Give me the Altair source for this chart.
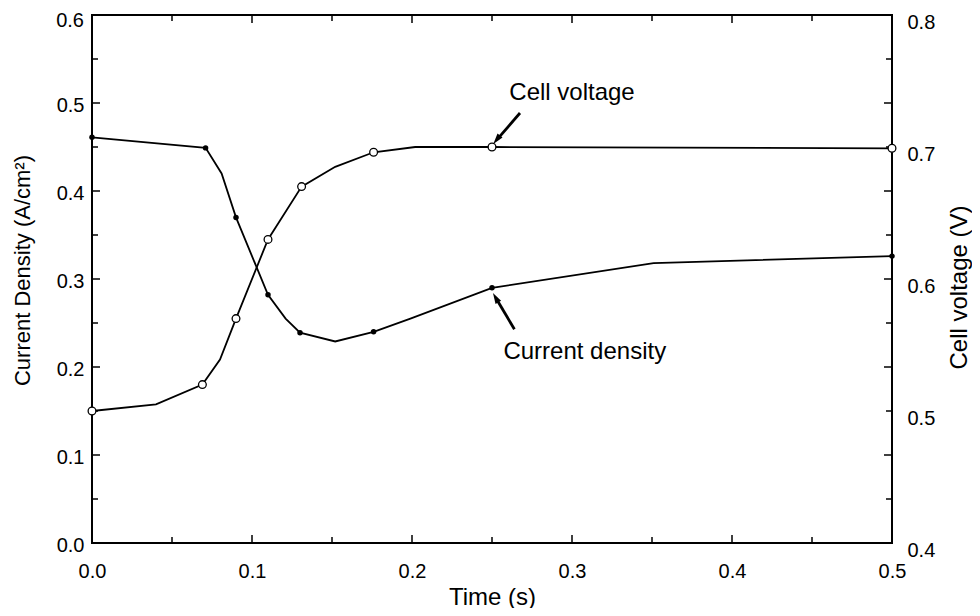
import altair as alt
import pandas as pd

# ---- data ----
cd_time = [0.0, 0.071, 0.081, 0.090, 0.110, 0.121, 0.130, 0.152, 0.176, 0.199, 0.250, 0.351, 0.500]
cd_value = [0.461, 0.449, 0.420, 0.370, 0.282, 0.255, 0.239, 0.229, 0.240, 0.255, 0.290, 0.318, 0.326]
cd_marked = [True, True, False, True, True, False, True, False, True, False, True, False, True]

v_time = [0.0, 0.040, 0.069, 0.080, 0.090, 0.110, 0.131, 0.152, 0.176, 0.202, 0.250, 0.500]
v_value = [0.500, 0.505, 0.520, 0.539, 0.570, 0.630, 0.670, 0.685, 0.696, 0.700, 0.700, 0.699]
v_marked = [True, False, True, False, True, True, True, False, True, False, True, True]

x_major = [0.0, 0.1, 0.2, 0.3, 0.4, 0.5]
x_minor = [0.05, 0.15, 0.25, 0.35, 0.45]
cd_major = [0.0, 0.1, 0.2, 0.3, 0.4, 0.5, 0.6]
cd_minor = [0.05, 0.15, 0.25, 0.35, 0.45, 0.55]
v_ticks = [0.4, 0.5, 0.6, 0.7, 0.8]

label_text = ["Cell voltage", "Current density"]
label_t = [0.300, 0.308]
label_cd = [0.511, 0.217]
arrow_tail_t = [0.2675, 0.264]
arrow_tail_cd = [0.4886, 0.243]
arrow_head_t = [0.2508, 0.2506]
arrow_head_cd = [0.4535, 0.284]
arrow_angle = [219, 330]

# ---- layout ----
W, H = 800, 528
FONT = "Liberation Sans"
MAJ, MIN = 8, 6

cd_df = pd.DataFrame({"t": cd_time, "cd": cd_value, "m": cd_marked})
v_df = pd.DataFrame({"t": v_time, "v": v_value, "m": v_marked})

xscale = alt.Scale(domain=[0, 0.5], nice=False, zero=False)
cdscale = alt.Scale(domain=[0, 0.6], nice=False, zero=False)
vscale = alt.Scale(domain=[0.4, 0.8], nice=False, zero=False)

x_axis = alt.Axis(
    values=x_major, format=".1f", title="Time (s)", ticks=False,
    domain=False, grid=False, labels=True, labelFontSize=20, labelPadding=34,
    labelBaseline="alphabetic", labelFlush=False, labelOverlap=False,
    titleFontSize=24, titleFontWeight="normal", titleX=W / 2, titleY=61,
    titleBaseline="alphabetic", titleAlign="center",
)
# the top label (0.6) sits lower in the reference; it is drawn as a text layer below
left_axis = alt.Axis(
    values=cd_major[:-1], format=".1f", title="Current Density (A/cm²)", ticks=False,
    domain=False, grid=False, labels=True, labelFontSize=20, labelPadding=8,
    labelFlush=False, labelOverlap=False, labelOffset=2,
    titleFontSize=22, titleFontWeight="normal", titleAngle=270, titleX=-70,
    titleY=255, titleAlign="center", titleBaseline="middle",
)
right_axis = alt.Axis(
    orient="right", values=v_ticks, format=".1f", title="Cell voltage (V)",
    ticks=False, domain=False, grid=False, labels=True, labelFontSize=20,
    labelPadding=15, labelOffset=7, labelFlush=False, labelOverlap=False,
    titleFontSize=24, titleFontWeight="normal", titleAngle=270, titleX=67,
    titleY=272, titleAlign="center", titleBaseline="middle",
)

X = alt.X("t:Q", scale=xscale, axis=x_axis)
Ycd = alt.Y("cd:Q", scale=cdscale, axis=left_axis)
Yv = alt.Y("v:Q", scale=vscale, axis=right_axis)

cd_line = alt.Chart(cd_df).mark_line(color="black", strokeWidth=1.8).encode(x=X, y=Ycd)
cd_pts = alt.Chart(cd_df).transform_filter("datum.m").mark_circle(
    color="black", size=30, opacity=1
).encode(x=X, y=Ycd)


def y_ticks(vals, x0, x1):
    return alt.Chart(pd.DataFrame({"cd": vals})).mark_rule(
        color="black", strokeWidth=1.5
    ).encode(y=Ycd, x=alt.value(x0), x2=alt.value(x1))


def x_ticks(vals, y0, y1):
    return alt.Chart(pd.DataFrame({"t": vals})).mark_rule(
        color="black", strokeWidth=1.5
    ).encode(x=X, y=alt.value(y0), y2=alt.value(y1))


top_label = alt.Chart(pd.DataFrame({"cd": cd_major[-1:]})).transform_calculate(
    txt="format(datum.cd, '.1f')"
).mark_text(
    font=FONT, fontSize=20, color="black", align="right", baseline="middle", dy=6
).encode(y=Ycd, x=alt.value(-8), text="txt:N")

lab_df = pd.DataFrame({"txt": label_text, "t": label_t, "cd": label_cd})
labels = alt.Chart(lab_df).mark_text(
    font=FONT, fontSize=24, color="black", align="center", baseline="middle"
).encode(x=X, y=Ycd, text="txt:N")

frac = 0.22
neck_t = [h + frac * (t - h) for h, t in zip(arrow_head_t, arrow_tail_t)]
neck_cd = [h + frac * (t - h) for h, t in zip(arrow_head_cd, arrow_tail_cd)]
arr_df = pd.DataFrame({
    "t": arrow_tail_t, "cd": arrow_tail_cd,
    "t2": neck_t, "cd2": neck_cd,
    "ht": arrow_head_t, "hcd": arrow_head_cd, "ang": arrow_angle,
})
arrow_shafts = alt.Chart(arr_df).mark_rule(color="black", strokeWidth=2.8).encode(
    x=X, y=Ycd, x2="t2:Q", y2="cd2:Q",
)
arrow_heads = alt.Chart(arr_df).mark_point(
    shape="M0,0 L-0.3,1 L0.3,1 Z", filled=True, color="black", size=460, opacity=1
).encode(
    x=alt.X("ht:Q", scale=xscale, axis=x_axis),
    y=alt.Y("hcd:Q", scale=cdscale, axis=left_axis),
    angle=alt.Angle("ang:Q", scale=None),
)

left = alt.layer(
    cd_line,
    y_ticks(cd_major, 0, MAJ), y_ticks(cd_minor, 0, MIN),
    y_ticks(cd_major, W, W - MAJ), y_ticks(cd_minor, W, W - MIN),
    x_ticks(x_major, 0, MAJ), x_ticks(x_minor, 0, MIN),
    x_ticks(x_major, H, H - MAJ), x_ticks(x_minor, H, H - MIN),
    cd_pts, arrow_shafts, arrow_heads, labels, top_label,
)

v_line = alt.Chart(v_df).mark_line(color="black", strokeWidth=1.8).encode(x=X, y=Yv)
v_pts = alt.Chart(v_df).transform_filter("datum.m").mark_point(
    shape="circle", filled=True, fill="white", stroke="black", strokeWidth=1.3,
    size=60, opacity=1
).encode(x=X, y=Yv)
right = alt.layer(v_line, v_pts)

chart = alt.layer(left, right).resolve_scale(y="independent").properties(
    width=W, height=H,
    autosize=alt.AutoSizeParams(type="none"),
    padding={"left": 84, "top": 7, "right": 80, "bottom": 65},
    background="white",
).configure_view(
    stroke="black", strokeWidth=2
).configure_axis(
    labelFont=FONT, titleFont=FONT, labelColor="black", titleColor="black"
)

chart.save("out.html", embed_options={"renderer": "svg", "actions": False})
